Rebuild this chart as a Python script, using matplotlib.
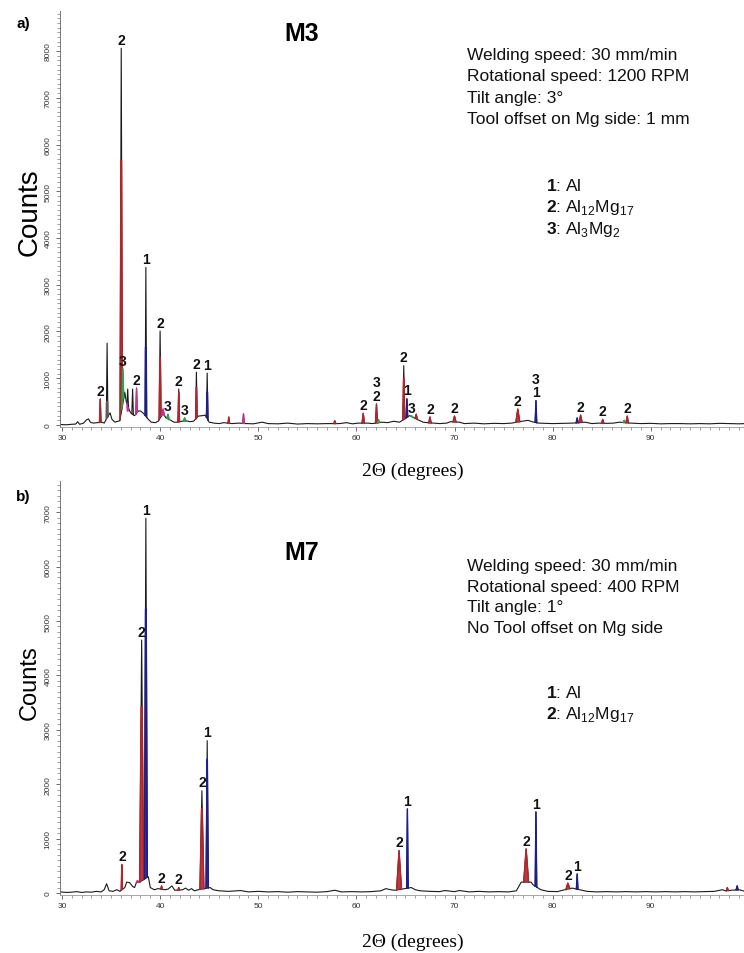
import numpy as np
import matplotlib
matplotlib.use("Agg")
import matplotlib.pyplot as plt
from matplotlib.ticker import MultipleLocator

plt.rcParams['font.family'] = ['Liberation Sans', 'DejaVu Sans']
plt.rcParams['mathtext.fontset'] = 'custom'
plt.rcParams['mathtext.rm'] = 'Liberation Sans'
plt.rcParams['mathtext.bf'] = 'Liberation Sans:bold'

RED = '#b3242b'
BLUE = '#1d1d8c'
GREEN = '#22ac45'
MAG = '#c8329e'
GREY = '#5c5c5c'
BLK = '#1a1a1a'

# ---------------- M3 data ----------------
m3_bg_x = [29.8, 30.5, 31.0, 31.4, 31.6, 31.8, 32.2, 32.5, 32.7, 32.9, 33.2, 33.6, 34.1, 34.3,
           34.9, 35.1, 35.4, 35.7, 35.9, 36.4, 36.55, 36.9, 37.05, 37.4, 37.8, 38.0, 38.3, 38.8,
           39.1, 39.5, 39.8, 40.3, 40.6, 41.1, 41.4, 41.7, 42.2, 42.7, 43.0, 43.4, 43.9, 44.3,
           44.6, 45.0, 45.5, 46.0, 46.5, 47.3, 48.0, 48.8, 49.5, 50.4, 51.0, 52.0, 53.0, 54.0,
           55.0, 56.0, 57.0, 58.3, 59.0, 59.6, 60.2, 61.2, 61.6, 62.6, 63.2, 63.8, 64.4, 65.4,
           65.9, 66.4, 66.8, 67.2, 67.9, 68.5, 69.2, 69.6, 70.5, 71.0, 72.0, 73.0, 74.0, 75.0,
           75.8, 76.9, 77.5, 77.9, 78.6, 79.3, 80.0, 81.0, 82.0, 83.3, 84.0, 84.7, 85.5, 86.2,
           86.8, 88.0, 89.0, 90.0, 91.0, 92.0, 93.0, 94.0, 95.0, 96.0, 97.0, 98.0, 99.0, 99.6]
m3_bg_y = [10, 5, 15, 20, 70, 15, 40, 110, 130, 60, 40, 50, 60, 40,
           260, 120, 60, 80, 90, 700, 500, 300, 250, 200, 300, 300, 250, 120,
           60, 50, 80, 250, 150, 100, 60, 60, 80, 90, 70, 80, 190, 200,
           210, 60, 40, 30, 50, 30, 40, 30, 25, 60, 30, 25, 40, 20,
           30, 25, 30, 30, 50, 25, 40, 40, 30, 60, 50, 80, 60, 200,
           150, 100, 60, 50, 40, 30, 40, 70, 60, 30, 40, 25, 35, 30,
           40, 80, 100, 70, 40, 35, 30, 35, 40, 60, 30, 40, 35, 40,
           60, 40, 30, 35, 25, 30, 30, 25, 30, 25, 35, 30, 25, 30]

m3_peak_pos = [33.9, 34.6, 36.04, 36.2, 36.7, 37.2, 37.6, 38.55, 40.0, 40.3, 40.8, 41.9, 42.5,
               43.7, 44.8, 47.0, 48.5, 57.8, 60.7, 62.05, 62.25, 64.83, 65.15, 65.65, 66.1,
               67.5, 70.0, 76.45, 78.3, 82.5, 82.85, 85.1, 87.3, 87.6]
m3_peak_height = [556, 1750, 8060, 1200, 770, 770, 790, 3370, 2010, 340, 230, 770, 150,
                  1130, 1110, 170, 240, 90, 250, 450, 120, 1270, 560, 190, 230,
                  170, 190, 340, 520, 150, 210, 120, 100, 190]
m3_phase_height = [556, 500, 5650, 1200, 300, 0, 790, 1660, 1450, 340, 230, 700, 150,
                   800, 700, 170, 240, 90, 250, 450, 120, 1000, 560, 190, 230,
                   170, 190, 340, 520, 150, 210, 120, 100, 190]
m3_peak_width = [0.08, 0.08, 0.12, 0.1, 0.08, 0.08, 0.08, 0.08, 0.1, 0.15, 0.12, 0.08, 0.12,
                 0.08, 0.08, 0.08, 0.08, 0.1, 0.12, 0.1, 0.08, 0.1, 0.08, 0.12, 0.12,
                 0.12, 0.15, 0.2, 0.08, 0.1, 0.15, 0.12, 0.1, 0.12]
m3_peak_color = [RED, GREY, RED, GREEN, MAG, GREY, MAG, BLUE, RED, MAG, GREEN, RED, GREEN,
                 RED, BLUE, RED, MAG, RED, RED, RED, GREEN, RED, BLUE, GREEN, RED,
                 RED, RED, RED, BLUE, BLUE, RED, RED, GREEN, RED]
m3_peak_label = ['2', '', '2', '3', '', '', '2', '1', '2', '', '3', '2', '3',
                 '2', '1', '', '', '', '2', '3\n2', '', '2', '1', '3', '',
                 '2', '2', '2', '3\n1', '', '2', '2', '', '2']

m3_info = ['Welding speed: 30 mm/min', 'Rotational speed: 1200 RPM', 'Tilt angle: 3°',
           'Tool offset on Mg side: 1 mm']
m3_phases = [r'$\mathbf{1}$: Al', r'$\mathbf{2}$: Al$_{12}$Mg$_{17}$', r'$\mathbf{3}$: Al$_{3}$Mg$_{2}$']

# ---------------- M7 data ----------------
m7_bg_x = [29.8, 30.5, 31.0, 31.5, 32.0, 32.5, 33.0, 33.5, 34.0, 34.3, 34.55, 34.8, 35.2, 35.6,
           35.9, 36.4, 36.6, 36.9, 37.2, 37.4, 37.6, 37.9, 38.8, 39.0, 39.4, 39.8, 40.5, 40.8,
           41.2, 41.5, 42.3, 42.6, 42.9, 43.2, 43.5, 43.9, 45.1, 45.4, 46.0, 47.0, 48.2, 49.0,
           50.0, 51.0, 52.0, 53.0, 54.0, 55.0, 56.0, 57.0, 57.8, 58.5, 59.5, 60.5, 61.5, 62.5,
           63.0, 63.5, 63.9, 65.6, 66.0, 66.5, 67.5, 68.5, 69.0, 70.0, 70.5, 71.5, 72.5, 73.5,
           74.5, 75.5, 76.3, 76.8, 77.8, 78.0, 78.8, 79.5, 80.5, 81.0, 82.0, 83.0, 83.5, 84.5,
           85.5, 86.5, 87.5, 88.5, 89.5, 90.5, 91.5, 92.5, 93.5, 94.5, 95.5, 96.5, 97.3, 97.6,
           98.2, 99.0, 99.6]
m7_bg_y = [20, 10, 15, 25, 10, 20, 15, 30, 20, 60, 170, 40, 30, 60,
           30, 100, 200, 190, 120, 100, 200, 200, 300, 100, 60, 80, 60, 70,
           130, 50, 60, 90, 50, 80, 40, 60, 100, 60, 40, 30, 45, 20,
           30, 20, 25, 15, 25, 20, 15, 25, 50, 20, 25, 20, 25, 40,
           80, 60, 50, 100, 60, 40, 30, 25, 45, 25, 45, 20, 30, 20,
           25, 20, 40, 200, 200, 150, 60, 30, 25, 50, 90, 50, 30, 20,
           25, 20, 25, 20, 25, 20, 25, 20, 25, 20, 25, 30, 60, 40,
           50, 60, 30]

m7_peak_pos = [36.1, 37.7, 38.12, 38.55, 40.15, 41.9, 44.26, 44.8, 64.35, 65.2, 77.3, 78.3,
               81.55, 82.5, 97.8, 98.8]
m7_peak_height = [520, 230, 4650, 6890, 130, 100, 1880, 2800, 780, 1545, 810, 1490,
                  180, 350, 100, 130]
m7_phase_height = [520, 230, 3420, 5220, 130, 100, 1550, 2460, 780, 1545, 810, 1490,
                   180, 350, 100, 130]
m7_peak_width = [0.06, 0.1, 0.2, 0.15, 0.08, 0.08, 0.2, 0.12, 0.25, 0.08, 0.25, 0.08,
                 0.2, 0.08, 0.1, 0.1]
m7_peak_color = [RED, MAG, RED, BLUE, RED, RED, RED, BLUE, RED, BLUE, RED, BLUE,
                 RED, BLUE, RED, BLUE]
m7_peak_label = ['2', '', '2', '1', '2', '2', '2', '1', '2', '1', '2', '1',
                 '2', '1', '', '']

m7_info = ['Welding speed: 30 mm/min', 'Rotational speed: 400 RPM', 'Tilt angle: 1°',
           'No Tool offset on Mg side']
m7_phases = [r'$\mathbf{1}$: Al', r'$\mathbf{2}$: Al$_{12}$Mg$_{17}$']

W, H = 744, 954
fig = plt.figure(figsize=(W / 100, H / 100), dpi=100)


def fx(px):
    return px / W


def fy(py):
    return 1 - py / H


def draw_panel(ax, bg_x, bg_y, pos, height, phase, width, color, label, ylim):
    ax.plot(bg_x, bg_y, color=BLK, lw=0.8, zorder=2)
    for c, h, hc, w, col, lab in zip(pos, height, phase, width, color, label):
        f0 = np.interp(c - w, bg_x, bg_y)
        f1 = np.interp(c + w, bg_x, bg_y)
        # full trace of the peak in black
        ax.plot([c - w, c, c + w], [f0, h, f1], color=BLK, lw=0.8, zorder=3)
        if hc > 0:
            if hc >= h:
                xs = [c - w, c, c + w]
                ys = [f0, h, f1]
            else:
                k = hc / h
                xs = [c - w, c - w * (1 - k), c + w * (1 - k), c + w]
                ys = [f0, hc, hc, f1]
            ax.fill(xs, ys, color=col, alpha=0.9, lw=0, zorder=4)
            ax.plot(xs, ys, color=col, lw=1.0, zorder=4)
        if lab:
            ax.annotate(lab, (c, h), xytext=(0, 1), textcoords='offset points',
                        ha='center', va='bottom', fontsize=10, fontweight='bold',
                        linespacing=0.95, color='#111111', zorder=5)
    ax.set_xlim(29.8, 99.5)
    ax.set_ylim(*ylim)
    ax.spines['top'].set_visible(False)
    ax.spines['right'].set_visible(False)
    ax.spines['left'].set_color('#777777')
    ax.spines['bottom'].set_color('#999999')
    ax.spines['left'].set_linewidth(0.7)
    ax.spines['bottom'].set_linewidth(0.6)
    ax.xaxis.set_major_locator(MultipleLocator(10))
    ax.xaxis.set_minor_locator(MultipleLocator(1))
    ax.yaxis.set_major_locator(MultipleLocator(1000))
    ax.yaxis.set_minor_locator(MultipleLocator(100))
    ax.set_xticks([30, 40, 50, 60, 70, 80, 90])
    ax.tick_params(axis='both', which='major', labelsize=6, colors='#555555',
                   labelcolor='#333333', length=3, width=0.6)
    ax.tick_params(axis='both', which='minor', colors='#777777', length=2, width=0.5)
    ax.tick_params(axis='y', labelrotation=90, pad=3)
    ax.tick_params(axis='x', pad=2)
    for t in ax.get_yticklabels():
        t.set_va('center')


# top panel
ax1 = fig.add_axes([fx(60), fy(428), fx(744 - 60), (428 - 12) / H])
draw_panel(ax1, m3_bg_x, m3_bg_y, m3_peak_pos, m3_peak_height, m3_phase_height,
           m3_peak_width, m3_peak_color, m3_peak_label, (-43, 8856))

# bottom panel
ax2 = fig.add_axes([fx(60), fy(896), fx(744 - 60), (896 - 482) / H])
draw_panel(ax2, m7_bg_x, m7_bg_y, m7_peak_pos, m7_peak_height, m7_phase_height,
           m7_peak_width, m7_peak_color, m7_peak_label, (-37, 7574))

# labels and texts
fig.text(fx(23), fy(24), 'a)', fontsize=11, fontweight='bold', ha='center', va='center')
fig.text(fx(23), fy(497), 'b)', fontsize=11, fontweight='bold', ha='center', va='center')
fig.text(fx(302), fy(34), 'M3', fontsize=18, fontweight='bold', ha='center', va='center')
fig.text(fx(302), fy(553), 'M7', fontsize=18, fontweight='bold', ha='center', va='center')
fig.text(fx(30), fy(212), 'Counts', fontsize=20, rotation=90, ha='center', va='center')
fig.text(fx(30), fy(683), 'Counts', fontsize=17, rotation=90, ha='center', va='center')
fig.text(fx(413), fy(471), '2Θ (degrees)', fontsize=14, family='Liberation Serif',
         ha='center', va='center')
fig.text(fx(413), fy(942), '2Θ (degrees)', fontsize=14, family='Liberation Serif',
         ha='center', va='center')

for i, s in enumerate(m3_info):
    fig.text(fx(467), fy(60 + 21.3 * i), s, fontsize=12.5, va='baseline', color='#111111')
for i, s in enumerate(m3_phases):
    fig.text(fx(546), fy(191 + 21.3 * i), s, fontsize=12.5, va='baseline', color='#111111')
for i, s in enumerate(m7_info):
    fig.text(fx(467), fy(571 + 20.7 * i), s, fontsize=12.5, va='baseline', color='#111111')
for i, s in enumerate(m7_phases):
    fig.text(fx(546), fy(698 + 21.3 * i), s, fontsize=12.5, va='baseline', color='#111111')

fig.savefig('out.png', dpi=100)
